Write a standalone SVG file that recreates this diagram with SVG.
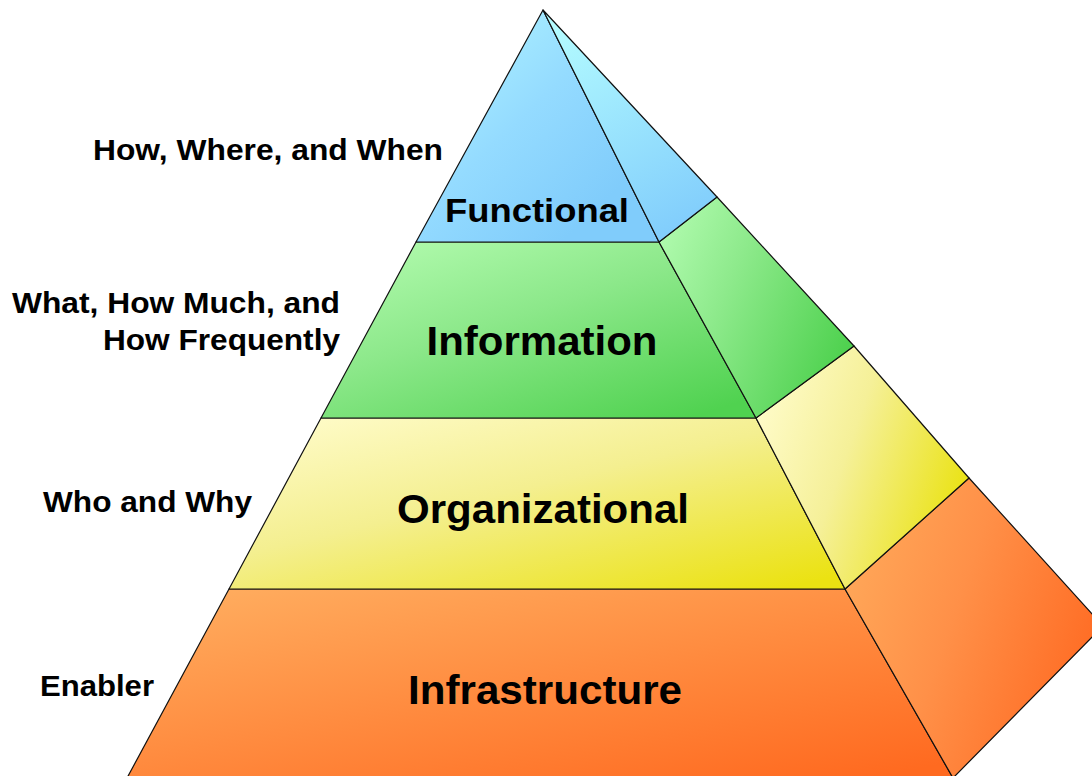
<svg xmlns="http://www.w3.org/2000/svg" width="1092" height="776" viewBox="0 0 1092 776">
  <style>
    .face { stroke: #111; stroke-width: 1.2; stroke-linejoin: round; }
    .main { font-family: "Liberation Sans", Arial, sans-serif; font-weight: bold; fill: #000; text-anchor: middle; }
    .side { font-family: "Liberation Sans", Arial, sans-serif; font-weight: bold; fill: #000; font-size: 30px; }
  </style>
  <defs>
    <linearGradient id="gFuncF" x1="0.2" y1="0" x2="0.9" y2="0.7">
      <stop offset="0" stop-color="#aef2ff"/>
      <stop offset="0.5" stop-color="#94dbff"/>
      <stop offset="1" stop-color="#80ccfb"/>
    </linearGradient>
    <linearGradient id="gFuncR" x1="0.2" y1="0" x2="0.6" y2="1">
      <stop offset="0" stop-color="#b4fcff"/>
      <stop offset="1" stop-color="#82cefc"/>
    </linearGradient>
    <linearGradient id="gInfoF" x1="0.05" y1="0" x2="0.85" y2="1">
      <stop offset="0" stop-color="#b4fcb0"/>
      <stop offset="0.45" stop-color="#8ce88a"/>
      <stop offset="1" stop-color="#50d250"/>
    </linearGradient>
    <linearGradient id="gInfoR" x1="0" y1="0.1" x2="1" y2="0.6">
      <stop offset="0" stop-color="#b2fcb0"/>
      <stop offset="0.4" stop-color="#8eea8c"/>
      <stop offset="1" stop-color="#50d250"/>
    </linearGradient>
    <linearGradient id="gOrgF" x1="0.05" y1="0" x2="0.9" y2="1">
      <stop offset="0" stop-color="#fffccc"/>
      <stop offset="0.45" stop-color="#f4ef90"/>
      <stop offset="1" stop-color="#ebe212"/>
    </linearGradient>
    <linearGradient id="gOrgR" x1="0" y1="0.2" x2="1" y2="0.6">
      <stop offset="0" stop-color="#fffccc"/>
      <stop offset="0.45" stop-color="#f5f098"/>
      <stop offset="1" stop-color="#eae210"/>
    </linearGradient>
    <linearGradient id="gInfF" x1="0.05" y1="0" x2="0.9" y2="1">
      <stop offset="0" stop-color="#ffae60"/>
      <stop offset="0.5" stop-color="#ff8c40"/>
      <stop offset="1" stop-color="#ff6a20"/>
    </linearGradient>
    <linearGradient id="gInfR" x1="0" y1="0.2" x2="1" y2="0.6">
      <stop offset="0" stop-color="#ffa95a"/>
      <stop offset="0.45" stop-color="#ff9048"/>
      <stop offset="1" stop-color="#ff6a22"/>
    </linearGradient>
  </defs>

  <g id="infrastructure">
    <polygon class="face" fill="url(#gInfF)" points="229,589 845,589 953,778 127,778"/>
    <polygon class="face" fill="url(#gInfR)" points="845,589 969,478 1103,626 953,778"/>
    <text class="main" x="545" y="704" font-size="41" textLength="274" lengthAdjust="spacingAndGlyphs">Infrastructure</text>
    <text class="side" x="40" y="696" textLength="114" lengthAdjust="spacingAndGlyphs">Enabler</text>
  </g>

  <g id="organizational">
    <polygon class="face" fill="url(#gOrgF)" points="321,418 756,418 845,589 229,589"/>
    <polygon class="face" fill="url(#gOrgR)" points="756,418 854,346 969,478 845,589"/>
    <text class="main" x="543" y="523" font-size="40" textLength="292" lengthAdjust="spacingAndGlyphs">Organizational</text>
    <text class="side" x="43" y="512" textLength="209" lengthAdjust="spacingAndGlyphs">Who and Why</text>
  </g>

  <g id="information">
    <polygon class="face" fill="url(#gInfoF)" points="416,242 659,242 756,418 321,418"/>
    <polygon class="face" fill="url(#gInfoR)" points="659,242 717,197 854,346 756,418"/>
    <text class="main" x="542" y="355" font-size="40" textLength="231" lengthAdjust="spacingAndGlyphs">Information</text>
    <text class="side" x="12" y="313" textLength="328" lengthAdjust="spacingAndGlyphs">What, How Much, and</text>
    <text class="side" x="103" y="350" textLength="237" lengthAdjust="spacingAndGlyphs">How Frequently</text>
  </g>

  <g id="functional">
    <polygon class="face" fill="url(#gFuncF)" points="543,10 659,242 416,242"/>
    <polygon class="face" fill="url(#gFuncR)" points="543,10 717,197 659,242"/>
    <text class="main" x="537" y="222" font-size="34" textLength="184" lengthAdjust="spacingAndGlyphs">Functional</text>
    <text class="side" x="93" y="160" textLength="350" lengthAdjust="spacingAndGlyphs">How, Where, and When</text>
  </g>
</svg>
